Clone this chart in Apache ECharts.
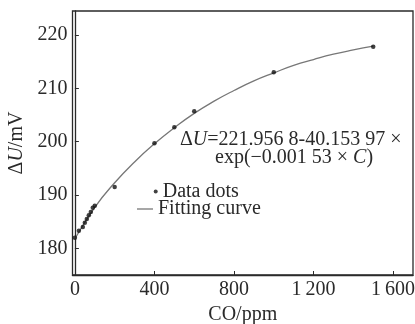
<!DOCTYPE html>
<html>
<head>
<meta charset="utf-8">
<script src="https://cdn.jsdelivr.net/npm/echarts@6/dist/echarts.min.js"></script>
<style>
  html, body { margin: 0; padding: 0; background: #fff; }
  #main { width: 415px; height: 324px; }
</style>
</head>
<body>
<div id="main"></div>
<script>
// 数据点 (CO 浓度 ppm, ΔU mV)
var dotX = [0, 20, 40, 50, 60, 70, 80, 90, 100, 200, 400, 500, 600, 1000, 1500];
var dotY = [182.0, 183.3, 184.0, 184.8, 185.5, 186.2, 186.8, 187.6, 188.0, 191.5, 199.7, 202.7, 205.7, 213.0, 217.8];
// 拟合曲线
var fitX = [0, 100, 200, 300, 400, 500, 600, 700, 800, 900, 1000, 1100, 1200, 1300, 1400, 1500];
var fitY = [181.8, 187.7, 192.3, 196.2, 199.6, 202.6, 205.3, 207.6, 209.6, 211.4, 212.9, 214.3, 215.4, 216.4, 217.2, 217.9];
// 刻度
var xTicks = [0, 400, 800, 1200, 1600];
var yTicks = [180, 190, 200, 210, 220];

var serif = '"Liberation Serif", "DejaVu Serif", serif';
var ink = '#2a2a2a';
var fs = 20;

var myChart = echarts.init(document.getElementById('main'));

var option = {
  animation: false,
  textStyle: { fontFamily: serif },
  grid: {
    left: 72.5, right: 2, top: 11, bottom: 49,
    outerBoundsMode: 'none',
    containLabel: false,
    show: true, borderColor: ink, borderWidth: 1.3
  },
  xAxis: {
    type: 'value',
    min: -12, max: 1700,
    name: 'CO/ppm',
    nameLocation: 'middle',
    nameGap: 27,
    nameTextStyle: { fontFamily: serif, fontSize: fs, color: ink },
    splitLine: { show: false },
    axisLine: { lineStyle: { color: ink, width: 1.3 } },
    axisTick: { inside: true, length: 4, customValues: xTicks, lineStyle: { color: ink } },
    axisLabel: {
      customValues: xTicks,
      margin: 5,
      fontFamily: serif, fontSize: fs, color: ink,
      formatter: function (v) {
        return v >= 1000 ? Math.floor(v / 1000) + '\u2009' + String(v % 1000).padStart(3, '0') : String(v);
      }
    }
  },
  yAxis: {
    type: 'value',
    min: 175, max: 224.5,
    name: '{a|Δ}{i|U}{a|/mV}',
    nameLocation: 'middle',
    nameRotate: 90,
    nameGap: 33,
    nameTextStyle: {
      rich: {
        a: { fontFamily: serif, fontSize: fs, color: ink },
        i: { fontFamily: serif, fontSize: fs, color: ink, fontStyle: 'italic' }
      }
    },
    splitLine: { show: false },
    axisLine: { lineStyle: { color: ink, width: 1.3 } },
    axisTick: { inside: true, length: 4, customValues: yTicks, lineStyle: { color: ink } },
    axisLabel: { customValues: yTicks, margin: 5, fontFamily: serif, fontSize: fs, color: ink }
  },
  legend: [
    {
      left: 153.7, top: 181.5, padding: 0,
      itemWidth: 4, itemHeight: 4,
      textStyle: { fontFamily: serif, fontSize: fs, color: ink },
      data: [{ name: 'Data dots', icon: 'circle', itemStyle: { color: '#111' } }]
    },
    {
      left: 137, top: 199, padding: 0,
      itemWidth: 16, itemHeight: 1.3,
      textStyle: { fontFamily: serif, fontSize: fs, color: ink },
      data: [{ name: 'Fitting curve', icon: 'rect', itemStyle: { color: '#777' } }]
    }
  ],
  series: [
    {
      name: 'Fitting curve',
      type: 'line',
      smooth: true,
      symbol: 'none',
      lineStyle: { color: '#777', width: 1.3 },
      itemStyle: { color: '#777' },
      data: fitX.map(function (x, i) { return [x, fitY[i]]; }),
      z: 2
    },
    {
      name: 'Data dots',
      type: 'scatter',
      symbol: 'circle',
      symbolSize: 4.5,
      itemStyle: { color: '#111' },
      data: dotX.map(function (x, i) { return [x, dotY[i]]; }),
      z: 3
    }
  ],
  graphic: [
    {
      type: 'text',
      left: 180, top: 130,
      style: {
        text: '{a|Δ}{i|U}{a|=221.956 8-40.153 97 ×}',
        rich: {
          a: { fontFamily: serif, fontSize: fs, fill: ink },
          i: { fontFamily: serif, fontSize: fs, fill: ink, fontStyle: 'italic' }
        }
      }
    },
    {
      type: 'text',
      left: 215, top: 148,
      style: {
        text: '{a|exp(−0.001 53 × }{i|C}{a|)}',
        rich: {
          a: { fontFamily: serif, fontSize: fs, fill: ink },
          i: { fontFamily: serif, fontSize: fs, fill: ink, fontStyle: 'italic' }
        }
      }
    }
  ]
};

myChart.setOption(option);
</script>
</body>
</html>
